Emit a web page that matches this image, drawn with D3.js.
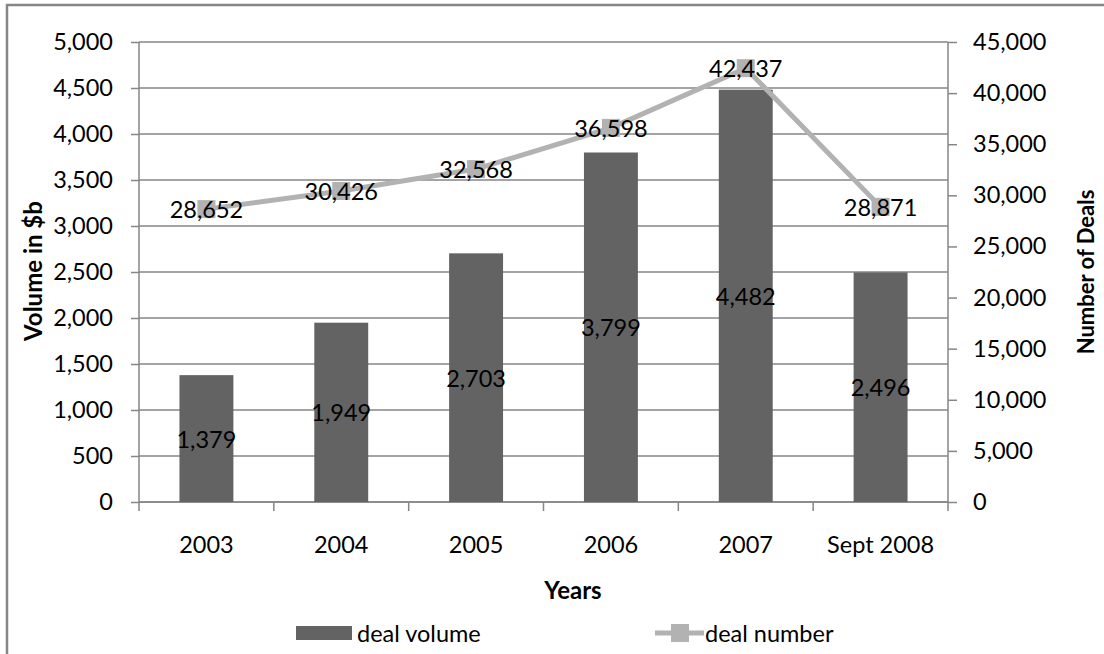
<!DOCTYPE html>
<html>
<head>
<meta charset="utf-8">
<script src="https://cdn.jsdelivr.net/npm/d3@7"></script>
<style>
  html, body { margin: 0; padding: 0; background: #fff; }
  svg { display: block; font-family: Lato, "Open Sans", sans-serif; }
</style>
</head>
<body>
<svg id="chart" width="1104" height="654"></svg>
<script>
// Deal volume ($b) and deal count by year
const years = ["2003", "2004", "2005", "2006", "2007", "Sept 2008"];
const dealVolume = [1379, 1949, 2703, 3799, 4482, 2496];
const dealNumber = [28652, 30426, 32568, 36598, 42437, 28871];
const volumeTicks = [0, 500, 1000, 1500, 2000, 2500, 3000, 3500, 4000, 4500, 5000];
const numberTicks = [0, 5000, 10000, 15000, 20000, 25000, 30000, 35000, 40000, 45000];

const W = 1104, H = 654;
const plot = { left: 139, right: 948, top: 42, bottom: 502 };
const gridColor = "#868686";
const barColor = "#636363";
const lineColor = "#b2b2b2";
const labelSize = 23.5;
const titleSize = 24;
const fmt = d3.format(",");

const svg = d3.select("#chart");

// outer frame (runs off the right and bottom edges)
svg.append("rect")
  .attr("x", 7).attr("y", 5)
  .attr("width", W + 20).attr("height", H + 20)
  .attr("fill", "#fff").attr("stroke", gridColor).attr("stroke-width", 2.5);

const x = d3.scaleBand().domain(years).range([plot.left, plot.right]).paddingInner(0.6).paddingOuter(0.3);
const xCenter = d => x(d) + x.bandwidth() / 2;
const yL = d3.scaleLinear().domain([0, 5000]).range([plot.bottom, plot.top]);
const yR = d3.scaleLinear().domain([0, 45000]).range([plot.bottom, plot.top]);

// horizontal gridlines
svg.append("g").selectAll("line").data(volumeTicks).join("line")
  .attr("x1", plot.left).attr("x2", plot.right)
  .attr("y1", d => yL(d)).attr("y2", d => yL(d))
  .attr("stroke", gridColor).attr("stroke-width", 1.5);

// left axis
const axL = svg.append("g").attr("transform", `translate(${plot.left},0)`)
  .call(d3.axisLeft(yL).tickValues(volumeTicks).tickFormat(fmt).tickSize(8).tickPadding(18));
// right axis
const axR = svg.append("g").attr("transform", `translate(${plot.right},0)`)
  .call(d3.axisRight(yR).tickValues(numberTicks).tickFormat(fmt).tickSize(9).tickPadding(16));
// bottom axis: ticks at category boundaries
const bounds = years.map((d, i) => plot.left + i * (plot.right - plot.left) / years.length).concat([plot.right]);
const axB = svg.append("g").attr("transform", `translate(0,${plot.bottom})`)
  .call(d3.axisBottom(x).tickSize(0).tickPadding(34));
axB.selectAll(".tick-bound").data(bounds).join("line")
  .attr("class", "tick-bound")
  .attr("x1", d => d).attr("x2", d => d).attr("y1", 0).attr("y2", 9)
  .attr("stroke", gridColor).attr("stroke-width", 1.5);

[axL, axR, axB].forEach(a => {
  a.select(".domain").attr("stroke", gridColor).attr("stroke-width", 1.5);
  a.selectAll(".tick line").attr("stroke", gridColor).attr("stroke-width", 1.5);
  a.selectAll(".tick text").attr("fill", "#000").attr("font-size", labelSize).attr("font-family", "Lato");
});
axL.select(".domain").attr("d", `M0,${plot.top}V${plot.bottom}`);
axR.select(".domain").attr("d", `M0,${plot.top}V${plot.bottom}`);
axB.select(".domain").attr("d", `M${plot.left},0H${plot.right}`);

// bars
svg.append("g").selectAll("rect").data(years).join("rect")
  .attr("x", d => x(d))
  .attr("width", x.bandwidth())
  .attr("y", (d, i) => yL(dealVolume[i]))
  .attr("height", (d, i) => yL(0) - yL(dealVolume[i]))
  .attr("fill", barColor);

// deal number line with square markers
const line = d3.line().x((d, i) => xCenter(years[i])).y(d => yR(d));
svg.append("path").datum(dealNumber)
  .attr("d", line).attr("fill", "none")
  .attr("stroke", lineColor).attr("stroke-width", 5).attr("stroke-linejoin", "round");
const mk = 18;
svg.append("g").selectAll("rect").data(dealNumber).join("rect")
  .attr("x", (d, i) => xCenter(years[i]) - mk / 2)
  .attr("y", d => yR(d) - mk / 2)
  .attr("width", mk).attr("height", mk)
  .attr("fill", lineColor);

// value labels
svg.append("g").selectAll("text").data(dealVolume).join("text")
  .attr("x", (d, i) => xCenter(years[i]))
  .attr("y", d => (yL(d) + yL(0)) / 2)
  .attr("text-anchor", "middle").attr("dominant-baseline", "central")
  .attr("font-size", labelSize).text(d => fmt(d));
svg.append("g").selectAll("text").data(dealNumber).join("text")
  .attr("x", (d, i) => xCenter(years[i]))
  .attr("y", d => yR(d))
  .attr("text-anchor", "middle").attr("dominant-baseline", "central")
  .attr("font-size", labelSize).text(d => fmt(d));

// axis titles
svg.append("text").attr("transform", "translate(32,271) rotate(-90)")
  .attr("text-anchor", "middle").attr("dominant-baseline", "central")
  .attr("font-size", titleSize).attr("font-weight", "bold").text("Volume in $b");
svg.append("text").attr("transform", "translate(1085,272) rotate(-90)")
  .attr("text-anchor", "middle").attr("dominant-baseline", "central")
  .attr("font-size", 22).attr("font-weight", "bold").text("Number of Deals");
svg.append("text").attr("x", 573).attr("y", 589)
  .attr("text-anchor", "middle").attr("dominant-baseline", "central")
  .attr("font-size", titleSize).attr("font-weight", "bold").text("Years");

// legend
const lg = svg.append("g");
lg.append("rect").attr("x", 296).attr("y", 626).attr("width", 56).attr("height", 14).attr("fill", barColor);
lg.append("text").attr("x", 357).attr("y", 633).attr("dominant-baseline", "central")
  .attr("font-size", 23.5).text("deal volume");
lg.append("line").attr("x1", 655).attr("x2", 704).attr("y1", 633).attr("y2", 633)
  .attr("stroke", lineColor).attr("stroke-width", 5);
lg.append("rect").attr("x", 671).attr("y", 624).attr("width", 18).attr("height", 18).attr("fill", lineColor);
lg.append("text").attr("x", 705).attr("y", 633).attr("dominant-baseline", "central")
  .attr("font-size", 23.5).text("deal number");
</script>
</body>
</html>
